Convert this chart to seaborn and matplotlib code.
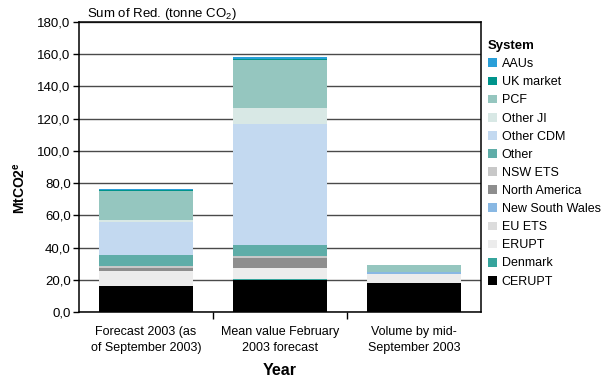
import numpy as np
import pandas as pd
import matplotlib
matplotlib.use("Agg")
import matplotlib.pyplot as plt
from matplotlib.patches import Patch
from matplotlib.ticker import FixedLocator, FuncFormatter
import seaborn as sns

# Categories on the x axis
categories = [
    "Forecast 2003 (as\nof September 2003)",
    "Mean value February\n2003 forecast",
    "Volume by mid-\nSeptember 2003",
]

# Reduction volumes (MtCO2e) per trading system, one value per category
aaus = [0.6, 1.4, 0.0]
uk_market = [0.5, 0.6, 0.0]
pcf = [17.8, 29.8, 4.3]
other_ji = [1.2, 9.7, 0.0]
other_cdm = [20.7, 75.3, 0.0]
other = [6.8, 6.9, 0.0]
nsw_ets = [1.4, 1.2, 0.0]
north_america = [1.9, 6.2, 0.0]
new_south_wales = [0.0, 0.0, 1.2]
eu_ets = [0.0, 0.0, 0.0]
erupt = [9.0, 6.8, 5.6]
denmark = [0.0, 0.6, 0.0]
cerupt = [16.3, 20.0, 17.8]

# Legend order (top to bottom); the last one sits at the bottom of each stack
systems = ["AAUs", "UK market", "PCF", "Other JI", "Other CDM", "Other",
           "NSW ETS", "North America", "New South Wales", "EU ETS",
           "ERUPT", "Denmark", "CERUPT"]
series = [aaus, uk_market, pcf, other_ji, other_cdm, other, nsw_ets,
          north_america, new_south_wales, eu_ets, erupt, denmark, cerupt]
colors = ["#2a9fd8", "#00948c", "#95c6bf", "#d8e8e5", "#c3d9f0", "#5fada8",
          "#c8c8c8", "#8e8e8e", "#89b8e3", "#dcdcdc", "#ececec", "#36a49c",
          "#000000"]

rows = []
for name, vals in zip(systems, series):
    for cat, v in zip(categories, vals):
        rows.append({"Year": cat, "System": name, "Value": v})
df = pd.DataFrame(rows)

sns.set_theme(style="white")
plt.rcParams["font.family"] = ["Liberation Sans", "DejaVu Sans"]
plt.rcParams["text.color"] = "black"
plt.rcParams["axes.labelcolor"] = "black"
plt.rcParams["mathtext.fontset"] = "custom"
plt.rcParams["mathtext.rm"] = "Liberation Sans"
plt.rcParams["mathtext.bf"] = "Liberation Sans:bold"

fig = plt.figure(figsize=(6.10, 3.77), dpi=100)
ax = fig.add_axes([79 / 610, 1 - 312 / 377, (481 - 79) / 610, (312 - 22) / 377])

sns.histplot(data=df, x="Year", weights="Value", hue="System",
             hue_order=systems, palette=dict(zip(systems, colors)),
             multiple="stack", discrete=True, shrink=0.7,
             edgecolor="none", linewidth=0, alpha=1, legend=False, ax=ax)

# Axes limits, grid and frame
ax.set_ylim(0, 180)
ax.set_xlim(-0.5, 2.5)
ax.yaxis.set_major_locator(FixedLocator(np.arange(0, 181, 20)))
ax.yaxis.set_major_formatter(FuncFormatter(lambda v, p: f"{v:.1f}".replace(".", ",")))
ax.set_axisbelow(True)
ax.grid(axis="y", color="#4a4a4a", linewidth=1.0)
ax.grid(axis="x", visible=False)
for s in ax.spines.values():
    s.set_visible(True)
    s.set_color("black")
    s.set_linewidth(1.1)

ax.set_xticks(range(3))
ax.set_xticklabels(categories, fontsize=9, linespacing=1.5)
ax.set_xticks([0.5, 1.5], minor=True)
ax.tick_params(axis="x", which="major", length=0, pad=10, labelcolor="black")
ax.tick_params(axis="x", which="minor", bottom=True, length=5, width=1, color="black")
ax.tick_params(axis="y", left=True, length=4, width=1, color="black",
               labelsize=9.5, pad=2, labelcolor="black")

ax.set_xlabel("Year", fontsize=11.5, fontweight="bold", labelpad=6, color="black")
ax.set_ylabel("")
fig.text(20 / 610, 1 - 188 / 377, r"MtCO$\mathbf{2}^{\mathbf{e}}$", rotation=90,
         fontsize=10, fontweight="bold", ha="center", va="center")
fig.text(87 / 610, 1 - 14 / 377, r"Sum of Red. (tonne CO$_2$)",
         fontsize=9.5, ha="left", va="center")

handles = [Patch(facecolor=c, edgecolor="none") for c in colors]
leg = fig.legend(handles, systems, title="System", loc="upper left",
                 bbox_to_anchor=(488 / 610, 1 - 40 / 377), frameon=False,
                 fontsize=9, title_fontproperties={"weight": "bold", "size": 9.5},
                 handlelength=0.7, handleheight=0.7, handletextpad=0.4,
                 labelspacing=0.49, borderaxespad=0, borderpad=0)
leg._legend_box.align = "left"

fig.savefig("out.png", dpi=100)
